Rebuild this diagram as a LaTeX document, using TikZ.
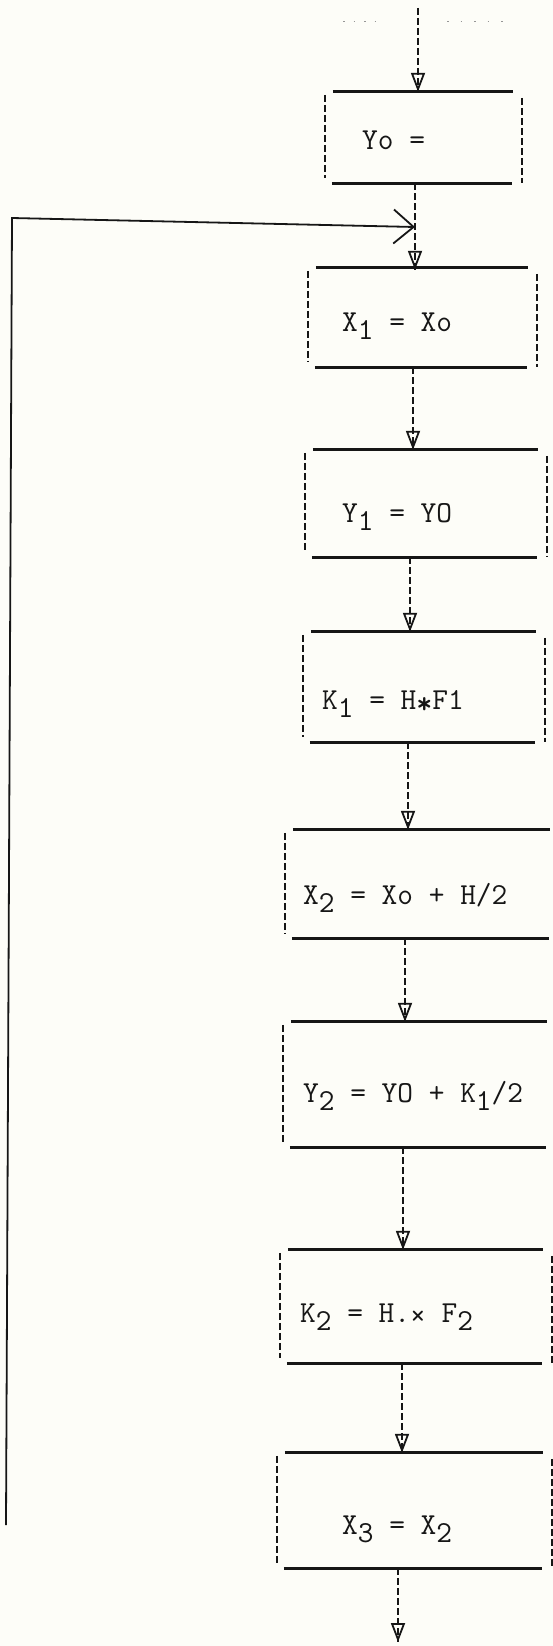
\documentclass[tikz,border=0pt]{standalone}
\usepackage{fontspec}
\usetikzlibrary{arrows.meta,decorations.markings}
\definecolor{ink}{RGB}{22,22,22}
\definecolor{bg}{RGB}{253,253,248}
\definecolor{dotc}{RGB}{150,150,150}
\newcommand\lowd[1]{\raisebox{-0.28em}{#1}}
\newcommand\drawbox[1]{%
  \draw[hline] ([xshift=8pt]#1.north west) -- ([xshift=-9pt]#1.north east);
  \draw[hline] ([xshift=7pt]#1.south west) -- ([xshift=-10pt]#1.south east);
  \draw[vside] ([yshift=-3pt]#1.north west) -- ([yshift=5pt]#1.south west);
  \draw[vside] ([yshift=-6pt]#1.north east) -- (#1.south east);
}
\begin{document}
\begin{tikzpicture}[x=1pt,y=-1pt,
  boxn/.style={rectangle, inner sep=0pt, draw=none},
  lbl/.style={anchor=base west, inner sep=0pt,
    font=\ttfamily\fontsize{30.5}{33}\selectfont\addfontfeatures{FakeBold=2},
    text=ink},
  hline/.style={line width=2.8pt, draw=ink},
  vside/.style={line width=2.3pt, draw=ink, dash pattern=on 7pt off 3pt},
  conn/.style={line width=2pt, draw=ink, dash pattern=on 7pt off 3pt,
    postaction=decorate,
    decoration={markings, mark=at position 1 with {\arrow[solid,line width=1.8pt]{Triangle[open,length=19pt,width=14pt]}}}},
  loopl/.style={line width=1.8pt, draw=ink}
]
\useasboundingbox[fill=bg] (0,0) rectangle (553,1646);
\clip (0,0) rectangle (553,1646);

% boxes (geometry only)
\node[boxn, minimum width=197pt, minimum height=91pt]  (b1) at (423.5,137.5) {};
\node[boxn, minimum width=229pt, minimum height=99pt]  (b2) at (422.5,317.5) {};
\node[boxn, minimum width=242pt, minimum height=107pt] (b3) at (426,503.5) {};
\node[boxn, minimum width=242pt, minimum height=110pt] (b4) at (424,687) {};
\node[boxn, minimum width=274pt, minimum height=108pt] (b5) at (422,884) {};
\node[boxn, minimum width=273pt, minimum height=125pt] (b6) at (419.5,1084.5) {};
\node[boxn, minimum width=272pt, minimum height=113pt] (b7) at (416,1306.5) {};
\node[boxn, minimum width=275pt, minimum height=115pt] (b8) at (414.5,1510.5) {};

\foreach \b in {b1,b2,b3,b4,b5,b6,b7,b8}{\drawbox{\b}}

% texts
\node[lbl] (t1) at (362,149) {Yo =};
\node[lbl] (t2) at (342,331) {X\lowd{1} = Xo};
\node[lbl] (t3) at (342,522) {Y\lowd{1} = YO};
\node[lbl] (t4) at (322,709) {K\lowd{1} = H\raisebox{-0.15em}{\textbf{*}}F1};
\node[lbl] (t5) at (303,904) {X\lowd{2} = Xo + H/2};
\node[lbl] (t6) at (303,1102) {Y\lowd{2} = YO + K\lowd{1}/2};
\node[lbl] (t7) at (300,1322) {K\lowd{2} = H.\raisebox{-0.12em}{×} F\lowd{2}};
\node[lbl] (t8) at (342,1534) {X\lowd{3} = X\lowd{2}};

% connector x positions
\coordinate (x0) at (418,0);
\coordinate (x1) at (415,0);
\coordinate (x2) at (413,0);
\coordinate (x3) at (410,0);
\coordinate (x4) at (408,0);
\coordinate (x5) at (405,0);
\coordinate (x6) at (403,0);
\coordinate (x7) at (402,0);
\coordinate (x8) at (398,0);

% top incoming
\coordinate (start) at (418,8);
\draw[dotc, line width=1pt, dash pattern=on 1.5pt off 9pt] (343,22) -- (380,22);
\draw[dotc, line width=1pt, dash pattern=on 1.5pt off 12pt] (447,22) -- (514,22);
\draw[conn] (start) -- (b1.north -| x0);

\draw[conn] (b1.south -| x1) -- ([yshift=-2pt]b2.north -| x1);
\draw[conn] (b2.south -| x2) -- (b3.north -| x2);
\draw[conn] (b3.south -| x3) -- (b4.north -| x3);
\draw[conn] (b4.south -| x4) -- (b5.north -| x4);
\draw[conn] (b5.south -| x5) -- (b6.north -| x5);
\draw[conn] (b6.south -| x6) -- (b7.north -| x6);
\draw[conn] (b7.south -| x7) -- (b8.north -| x7);
\coordinate (finish) at (398,1642);
\draw[conn] (b8.south -| x8) -- (finish);

% feedback loop
\coordinate (loopend) at (6,1525);
\coordinate (loopcorner) at (12,218);
\coordinate (jn) at (415,227);
\draw[loopl, -{Straight Barb[length=20pt,width=34pt,line width=1.8pt]}] (loopend) -- (loopcorner) -- (jn);
\end{tikzpicture}
\end{document}
